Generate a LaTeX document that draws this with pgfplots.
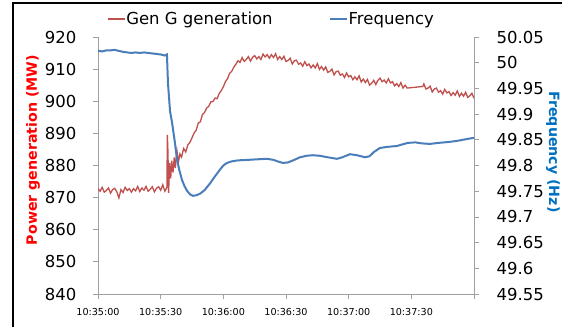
\documentclass[border=0pt]{standalone}
\usepackage{fontspec}
\setmainfont{DejaVu Sans}
\usepackage{pgfplots}
\pgfplotsset{compat=1.18}
\definecolor{redline}{RGB}{192,80,77}
\definecolor{blueline}{RGB}{74,126,187}
\definecolor{axgray}{RGB}{160,160,160}
\definecolor{labred}{RGB}{255,0,0}
\definecolor{labblue}{RGB}{0,112,192}

\pgfplotstableread{
t v
0 872.8
1 872.0
2 873.2
3 871.7
4 872.2
5 873.0
6 871.4
7 872.5
8 872.9
9 871.8
10 869.9
11 872.5
12 871.6
13 873.2
14 872.2
15 872.8
16 871.7
17 872.8
18 872.1
19 873.5
20 871.9
21 873.0
22 872.3
23 873.5
24 872.0
25 872.6
26 873.4
27 871.8
28 872.9
29 873.4
30 872.3
31 874.0
32 872.0
33 873.2
33.2 889.5
33.5 884.0
33.8 871.5
34.3 880.7
34.8 876.0
35.3 881.5
35.9 877.8
36.5 882.5
37 879.2
37.8 884.5
38.5 881.0
39.2 883.6
40 882.6
41 885.3
42 884.2
43 886.4
44 887.2
45 888.6
46 890.1
47 891.0
48 893.2
49 893.6
50 895.9
51 896.5
52 897.9
53 898.4
54 899.8
55 899.9
56 901.0
57 900.8
58 902.4
59 903.3
60 904.5
61 906.1
62 907.0
63 908.7
64 909.3
65 910.6
66 911.5
67 912.6
68 912.1
69 913.6
70 912.4
71 913.0
72 913.9
73 912.5
74 913.7
75 914.2
76 913.2
77 913.9
78 913.0
79 914.7
80 913.8
81 914.5
82 913.4
83 914.5
84 913.6
85 914.8
86 913.0
87 913.9
88 913.0
89 914.0
90 912.4
91 912.7
92 913.4
93 911.6
94 912.6
95 912.8
96 911.5
97 911.9
98 910.9
99 912.3
100 911.1
101 911.6
102 910.4
103 911.3
104 910.4
105 911.7
106 909.9
107 910.8
108 909.7
109 910.7
110 909.0
111 909.3
112 910.0
113 908.2
114 909.2
115 909.4
116 908.1
117 908.5
118 907.4
119 908.8
120 907.6
121 908.0
122 906.7
123 907.6
124 906.7
125 907.9
126 906.0
127 906.9
128 905.8
129 906.8
130 905.0
131 905.6
132 906.5
133 905.2
134 906.5
135 907.2
136 906.1
137 906.6
138 905.7
139 907.0
140 905.7
141 906.1
142 904.8
143 905.5
144 904.6
145 905.8
146 904.1
147 905.0
148 904.1
155.5 904.6
156 905.4
157 903.8
158 904.1
159 904.7
160 902.9
161 903.8
162 904.1
163 902.8
164 903.3
165 902.2
166 903.7
167 902.6
168 903.0
169 901.8
170 902.7
171 901.9
172 903.2
173 901.5
174 902.5
175 901.6
176 902.8
177 901.2
178 901.7
179 902.5
180 900.9
}\gendata

\pgfplotstableread{
t f
0 50.023
2 50.022
4 50.024
6 50.024
8 50.025
10 50.023
12 50.021
14 50.020
16 50.019
18 50.020
20 50.019
22 50.020
24 50.019
26 50.018
28 50.017
30 50.016
32 50.014
33 50.016
33.5 49.960
34.5 49.905
35.4 49.885
36.2 49.862
36.8 49.845
37.8 49.812
39 49.790
40.2 49.772
41.4 49.760
42.6 49.751
44 49.744
45.5 49.741
47 49.742
48.8 49.745
51 49.752
53.6 49.765
56 49.779
58.4 49.792
60 49.800
61.7 49.805
64 49.808
67 49.810
72 49.811
76 49.812
80.9 49.813
84 49.811
86 49.808
88.5 49.805
91 49.806
94 49.811
96.7 49.816
100 49.819
102.9 49.820
106 49.819
110 49.816
114.4 49.813
117 49.816
120.6 49.822
124 49.820
127.8 49.816
130 49.818
132 49.826
134.9 49.834
138 49.836
143.1 49.838
148.3 49.844
152 49.845
155 49.843
158.9 49.842
163 49.844
168.4 49.846
172 49.848
176 49.851
180 49.854
}\freqdata

\begin{document}
\begin{tikzpicture}
\useasboundingbox (0,0) rectangle (562pt,327pt);
\fill[white] (0,0) rectangle (562pt,327pt);
\draw[black, line width=1.8pt] (13pt,0pt) -- (13pt,324pt) -- (562pt,324pt);

\pgfplotsset{common/.style={
  width=376pt, height=257pt, scale only axis,
  at={(98pt,33pt)}, anchor=south west,
  xmin=0, xmax=180,
  axis line style={axgray, line width=0.8pt, -},
  every outer x axis line/.append style={-},
  every outer y axis line/.append style={-},
  tick style={axgray, line width=0.8pt},
  major tick length=5pt, tick align=outside,
  /pgf/number format/assume math mode=true,
}}

\begin{axis}[common,
  axis y line*=left, axis x line*=bottom,
  ymin=840, ymax=920, ytick={840,850,...,920},
  yticklabels={840,850,860,870,880,890,900,910,920},
  xtick={0,30,60,90,120,150,180},
  xticklabels={10:35:00,10:35:30,10:36:00,10:36:30,10:37:00,10:37:30,{}},
  xticklabel style={font=\fontsize{9.6}{10}\selectfont, text=black, yshift=-6pt},
  yticklabel style={font=\fontsize{16.5}{17}\selectfont, text=black, xshift=-13pt},
]
\addplot[redline, line width=1.3pt] table[x=t, y=v] {\gendata};
\end{axis}

\begin{axis}[common,
  axis y line*=right, axis x line=none,
  ymin=49.55, ymax=50.05,
  ytick={49.55,49.6,49.65,49.7,49.75,49.8,49.85,49.9,49.95,50,50.05},
  yticklabels={49.55,49.6,49.65,49.7,49.75,49.8,49.85,49.9,49.95,50,50.05},
  yticklabel style={font=\fontsize{16.5}{17}\selectfont, text=black, xshift=14pt},
  legend columns=2,
  legend style={at={(axis description cs:0.46,1.07)}, anchor=center,
    draw=none, fill=none, font=\fontsize{16.5}{17}\selectfont,
    /tikz/every even column/.append style={column sep=55pt},
    nodes={inner xsep=1pt}},
  legend image code/.code={\draw[#1] (0pt,0pt) -- (17pt,0pt);},
]
\addlegendimage{redline, line width=1.3pt}
\addlegendentry{Gen G generation}
\addplot[blueline, line width=2pt] table[x=t, y=f] {\freqdata};
\addlegendentry{Frequency}
\end{axis}

\node[rotate=90, font=\bfseries\fontsize{14.2}{15}\selectfont, text=labred] at (33pt,177pt) {Power generation (MW)};
\node[rotate=-90, font=\bfseries\fontsize{14.2}{15}\selectfont, text=labblue] at (553pt,175pt) {Frequency (Hz)};
\end{tikzpicture}
\end{document}
